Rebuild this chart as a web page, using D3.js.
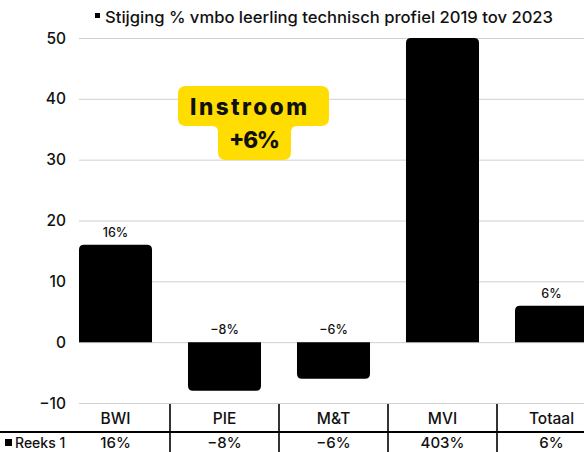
<!DOCTYPE html>
<html><head><meta charset="utf-8">
<script src="https://cdn.jsdelivr.net/npm/d3@7"></script>
<style>body{margin:0;background:#fff}svg{display:block;font-family:Inter,"Noto Sans",sans-serif}</style>
</head><body><svg id="c" width="584" height="452"></svg>
<script>
const categories = ["BWI","PIE","M&T","MVI","Totaal"];
const values = [16,-8,-6,403,6];
const valueLabels = ["16%","-8%","-6%","403%","6%"];
const yTicks = [-10,0,10,20,30,40,50];
const seriesName = "Reeks 1";
const title = "Stijging % vmbo leerling technisch profiel 2019 tov 2023";
const annotation = ["Instroom","+6%"];

const svg = d3.select("#c");
const W = 584, H = 452;
const x = d3.scaleBand().domain(categories).range([61,606]).paddingInner(0.33).paddingOuter(0.165);
const y = d3.scaleLinear().domain([-10,50]).range([403,38]);
const gridLeft = 79;

// title
const tg = svg.append("g");
tg.append("rect").attr("x",95).attr("y",13).attr("width",5).attr("height",5).attr("fill","#000");
tg.append("text").attr("x",105).attr("y",23).attr("font-size",16).attr("font-weight",500).attr("fill","#111")
  .attr("textLength",448).attr("lengthAdjust","spacingAndGlyphs").text(title);

// gridlines
svg.append("g").selectAll("line").data(yTicks).join("line")
  .attr("x1",gridLeft).attr("x2",W).attr("y1",d=>y(d)+0.5).attr("y2",d=>y(d)+0.5)
  .attr("stroke","#d0d0d0").attr("stroke-width",1);

// y axis labels
svg.append("g").selectAll("text").data(yTicks).join("text")
  .attr("x",66).attr("y",d=>y(d)+5.5).attr("text-anchor","end")
  .attr("font-size",15.5).attr("font-weight",500).attr("fill","#111")
  .text(d=>d<0?"\u2212"+Math.abs(d):d);

// bars
const r = 5;
function barPath(cx0, w, v){
  const vv = Math.max(-10, Math.min(50, v));
  const y0 = y(0), y1 = y(vv);
  const x0 = cx0, x1 = cx0 + w;
  if (vv >= 0) {
    return `M${x0},${y0}V${y1+r}Q${x0},${y1} ${x0+r},${y1}H${x1-r}Q${x1},${y1} ${x1},${y1+r}V${y0}Z`;
  } else {
    return `M${x0},${y0}V${y1-r}Q${x0},${y1} ${x0+r},${y1}H${x1-r}Q${x1},${y1} ${x1},${y1-r}V${y0}Z`;
  }
}
svg.append("g").selectAll("path").data(categories).join("path")
  .attr("d",(c,i)=>barPath(x(c), x.bandwidth(), values[i]))
  .attr("fill","#000");

// data labels (skip clipped MVI)
svg.append("g").selectAll("text").data(categories).join("text")
  .filter((c,i)=>values[i] <= 50)
  .attr("x",c=>x(c)+x.bandwidth()/2)
  .attr("y",(c)=>{const i=categories.indexOf(c); return y(Math.max(0,values[i]))-8;})
  .attr("text-anchor","middle").attr("font-size",12.5).attr("font-weight",500).attr("fill","#111")
  .text(c=>valueLabels[categories.indexOf(c)].replace("-","\u2212"));

// annotation box
const ax0=178, ax1=329, ay0=86, ay1=126, bx0=218, bx1=291, by1=160, rr=8, cr=6;
const ap = `M${ax0+rr},${ay0}H${ax1-rr}Q${ax1},${ay0} ${ax1},${ay0+rr}V${ay1-rr}Q${ax1},${ay1} ${ax1-rr},${ay1}`+
  `H${bx1+cr}Q${bx1},${ay1} ${bx1},${ay1+cr}V${by1-rr}Q${bx1},${by1} ${bx1-rr},${by1}H${bx0+rr}Q${bx0},${by1} ${bx0},${by1-rr}`+
  `V${ay1+cr}Q${bx0},${ay1} ${bx0-cr},${ay1}H${ax0+rr}Q${ax0},${ay1} ${ax0},${ay1-rr}V${ay0+rr}Q${ax0},${ay0} ${ax0+rr},${ay0}Z`;
svg.append("path").attr("d",ap).attr("fill","#FFDD00");
svg.append("text").attr("x",190).attr("y",115).attr("font-size",22.5)
  .attr("font-weight",800).attr("textLength",117).attr("lengthAdjust","spacing").attr("fill","#111").text(annotation[0]);
svg.append("text").attr("x",229).attr("y",148).attr("font-size",22.5)
  .attr("font-weight",800).attr("textLength",51).attr("lengthAdjust","spacing").attr("fill","#111").text(annotation[1]);

// data table
const tb = svg.append("g");
tb.append("line").attr("x1",0).attr("x2",W).attr("y1",432).attr("y2",432).attr("stroke","#000").attr("stroke-width",2);
tb.selectAll("line.sep").data(categories.slice(1)).join("line").attr("class","sep")
  .attr("x1",c=>x(c)-x.step()*x.paddingInner()/2).attr("x2",c=>x(c)-x.step()*x.paddingInner()/2)
  .attr("y1",404).attr("y2",H).attr("stroke","#000").attr("stroke-width",1.6);
tb.selectAll("text.cat").data(categories).join("text").attr("class","cat")
  .attr("x",c=>x(c)+x.bandwidth()/2).attr("y",424).attr("text-anchor","middle")
  .attr("font-size",15.5).attr("font-weight",500).attr("fill","#111").text(c=>c);
tb.selectAll("text.val").data(categories).join("text").attr("class","val")
  .attr("x",c=>x(c)+x.bandwidth()/2).attr("y",448).attr("text-anchor","middle")
  .attr("font-size",15).attr("font-weight",500).attr("fill","#111")
  .text((c,i)=>valueLabels[i].replace("-","\u2212"));
tb.append("rect").attr("x",5).attr("y",439).attr("width",7).attr("height",7).attr("fill","#000");
tb.append("text").attr("x",15).attr("y",448).attr("font-size",14).attr("font-weight",500).attr("fill","#111").text(seriesName);
</script></body></html>
